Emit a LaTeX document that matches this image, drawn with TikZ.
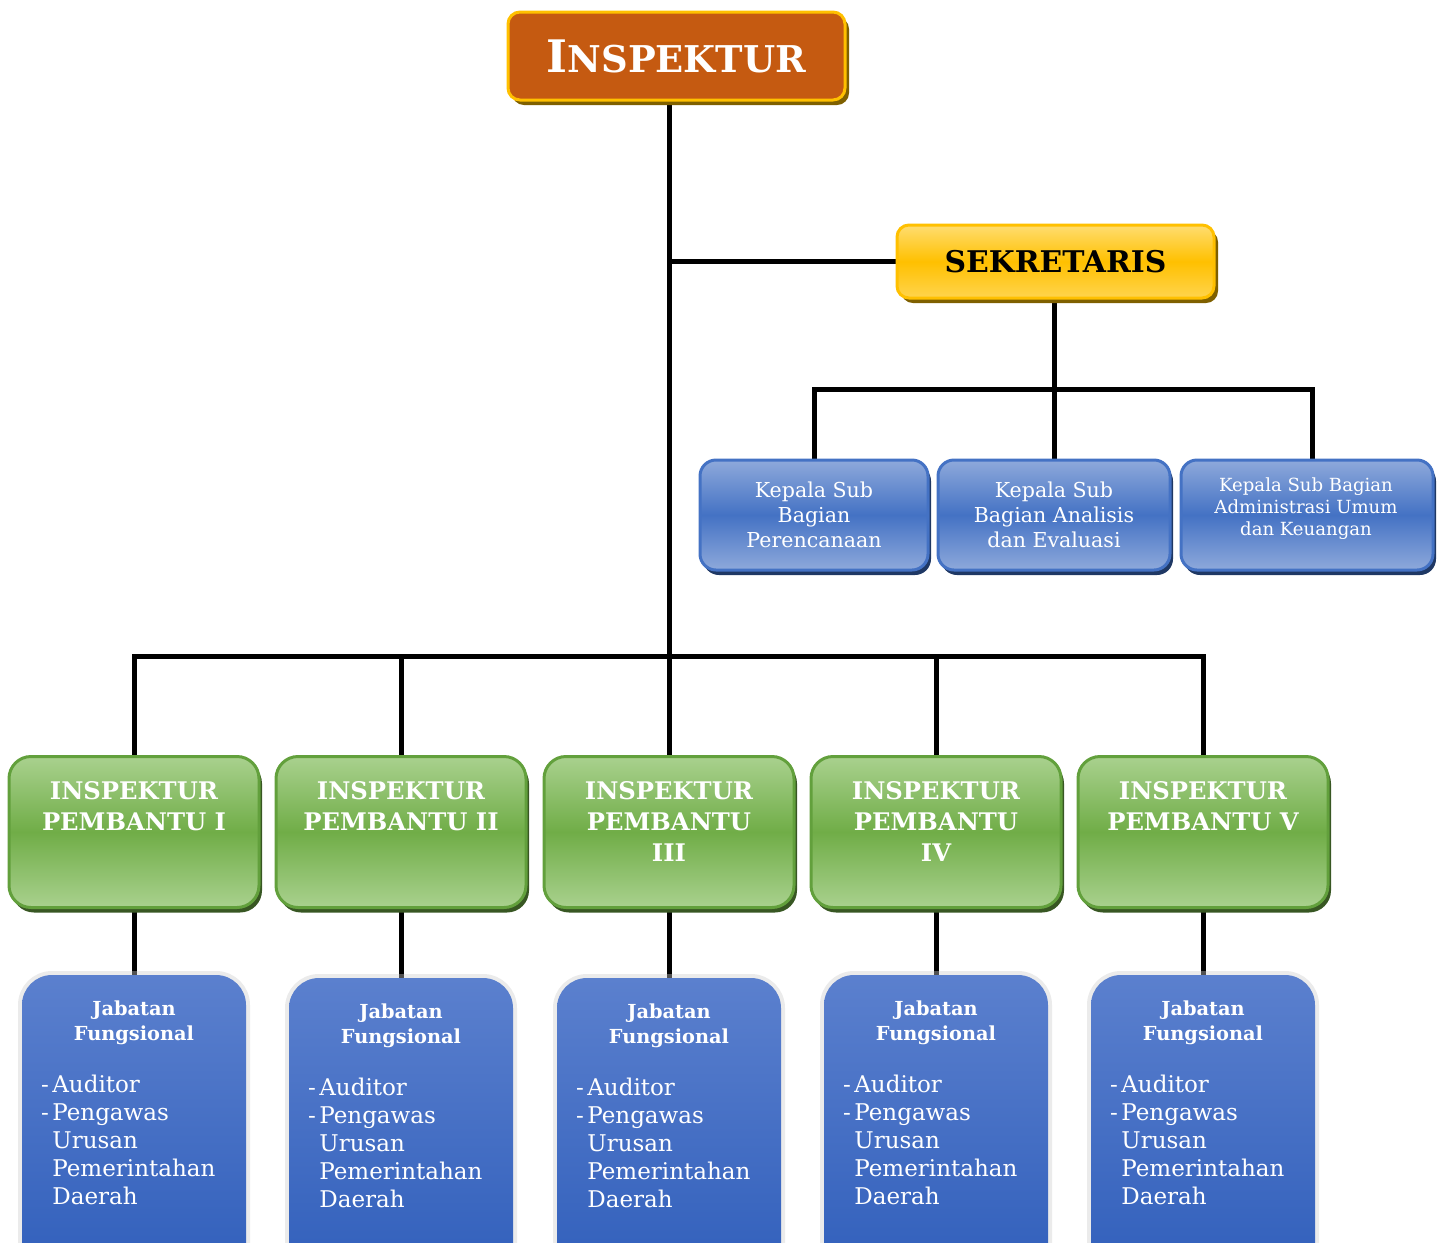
\documentclass[tikz,border=0pt]{standalone}
\usepackage{fontspec}
\setmainfont{DejaVu Serif}
\usetikzlibrary{shadows,backgrounds}
\definecolor{orgfill}{HTML}{C55A11}
\definecolor{goldline}{HTML}{FFC000}
\definecolor{olivesh}{HTML}{7F6000}
\definecolor{yeltop}{HTML}{FFDD70}
\definecolor{yelmid}{HTML}{FFC000}
\definecolor{yelbot}{HTML}{FFD44D}
\definecolor{bltop}{HTML}{8EA9DB}
\definecolor{blmid}{HTML}{4472C4}
\definecolor{blsh}{HTML}{1F3864}
\definecolor{grtop}{HTML}{A9D18E}
\definecolor{grmid}{HTML}{70AD47}
\definecolor{grline}{HTML}{62A03C}
\definecolor{grsh}{HTML}{385723}
\definecolor{fbtop}{HTML}{5B80CE}
\definecolor{fbbot}{HTML}{2E5DBA}
\newdimen\pxu \pxu=0.02cm
\begin{document}
\begin{tikzpicture}[x=0.02cm,y=-0.02cm,
  conn/.style={line width=5\pxu, draw=black},
  orgbox/.style={draw=goldline, line width=3\pxu, fill=orgfill, rounded corners=12\pxu,
    general shadow={fill=olivesh, draw=none, shadow xshift=4\pxu, shadow yshift=-5\pxu},
    minimum width=337\pxu, minimum height=88\pxu, inner sep=0pt, text=white, font=\bfseries},
  yelbox/.style={draw=goldline, line width=3\pxu, top color=yeltop, bottom color=yelbot, middle color=yelmid,
    rounded corners=12\pxu,
    general shadow={fill=olivesh, draw=none, shadow xshift=4\pxu, shadow yshift=-5\pxu},
    minimum width=317\pxu, minimum height=73\pxu, inner sep=0pt, text=black,
    font=\fontsize{17pt}{20pt}\selectfont\bfseries},
  subbox/.style={draw=blmid, line width=3\pxu, top color=bltop, bottom color=bltop, middle color=blmid,
    rounded corners=16\pxu,
    general shadow={fill=blsh, draw=none, shadow xshift=3\pxu, shadow yshift=-5\pxu},
    minimum height=110\pxu, inner sep=0pt, text=white, align=center,
    font=\fontsize{11.7pt}{14.2pt}\selectfont},
  grbox/.style={draw=grline, line width=3\pxu, top color=grtop, bottom color=grtop, middle color=grmid,
    rounded corners=22\pxu,
    general shadow={fill=grsh, draw=none, shadow xshift=3\pxu, shadow yshift=-5\pxu},
    minimum width=250\pxu, minimum height=151\pxu, inner sep=0pt},
  grtext/.style={text=white, align=center, inner sep=0pt, anchor=north,
    font=\fontsize{13.8pt}{17.6pt}\selectfont\bfseries},
  fbox/.style={top color=fbtop, bottom color=fbbot, draw=none, rounded corners=30\pxu,
    preaction={draw=black!20, line width=8\pxu, opacity=.4},
    minimum width=224\pxu, minimum height=320\pxu, inner sep=0pt},
  ftitle/.style={text=white, align=center, inner sep=0pt, anchor=north,
    font=\fontsize{11pt}{14.2pt}\selectfont\bfseries},
  flist/.style={text=white, align=left, inner sep=0pt, anchor=north west,
    font=\fontsize{13.1pt}{15.9pt}\selectfont}
]
\useasboundingbox (0,0) rectangle (1441,1242);
\clip (0,0) rectangle (1441,1242);

% top
\node[orgbox] (insp) at (676.5,56) {{\fontsize{25.5pt}{28pt}\selectfont I}{\fontsize{21pt}{28pt}\selectfont NSPEKTUR}};
\node[yelbox] (sek) at (1055.5,261.5) {SEKRETARIS};

% sub-bagian
\node[subbox, minimum width=228\pxu] (s1) at (814,515) {Kepala Sub\\Bagian\\Perencanaan};
\node[subbox, minimum width=232\pxu] (s2) at (1054,515) {Kepala Sub\\Bagian Analisis\\dan Evaluasi};
\node[subbox, minimum width=252\pxu] (s3) at (1307,515) {};
\node[text=white, align=center, inner sep=0pt, font=\fontsize{10.3pt}{12.5pt}\selectfont] (s3t) at (1306,509)
  {Kepala Sub Bagian\\Administrasi Umum\\dan Keuangan};

% inspektur pembantu
\node[grbox] (g1) at (134,832) {};
\node[grbox] (g2) at (401,832) {};
\node[grbox] (g3) at (669,832) {};
\node[grbox] (g4) at (936,832) {};
\node[grbox] (g5) at (1203,832) {};
\node[grtext] (g1t) at (134,781) {INSPEKTUR\\PEMBANTU I};
\node[grtext] (g2t) at (401,781) {INSPEKTUR\\PEMBANTU II};
\node[grtext] (g3t) at (669,781) {INSPEKTUR\\PEMBANTU\\III};
\node[grtext] (g4t) at (936,781) {INSPEKTUR\\PEMBANTU\\IV};
\node[grtext] (g5t) at (1203,781) {INSPEKTUR\\PEMBANTU V};

% jabatan fungsional
\node[fbox] (b1) at (134,1135) {};
\node[fbox] (b2) at (401,1138) {};
\node[fbox] (b3) at (669,1138) {};
\node[fbox] (b4) at (936,1135) {};
\node[fbox] (b5) at (1203,1135) {};
\foreach \n/\x/\y in {1/134/1000,2/401/1003,3/669/1003,4/936/1000,5/1203/1000}{
  \node[ftitle] (b\n t) at (\x,\y) {Jabatan\\Fungsional};
  \node[flist] (b\n l) at (\x-82,\y+75) {\llap{-\kern2pt}Auditor\\\llap{-\kern2pt}Pengawas\\Urusan\\Pemerintahan\\Daerah};
}

% connectors
\begin{scope}[on background layer]
\coordinate (bus) at (669,656);
\coordinate (sbus) at (1054,389);
\draw[conn] (g3.north |- insp.south) -- (g3.north);
\draw[conn] (g3.north |- sek.west) -- (sek.west);
\draw[conn] (s2.north |- sek.south) -- (s2.north);
\draw[conn] (s1.north) -- (s1.north |- sbus) -- ([xshift=5\pxu]s3.north |- sbus) -- ([xshift=5\pxu]s3.north);
\draw[conn] (g1.north) -- (g1.north |- bus) -- (g5.north |- bus) -- (g5.north);
\draw[conn] (g2.north) -- (g2.north |- bus);
\draw[conn] (g4.north) -- (g4.north |- bus);
\draw[conn] (g1.south) -- (b1.north);
\draw[conn] (g2.south) -- (b2.north);
\draw[conn] (g3.south) -- (b3.north);
\draw[conn] (g4.south) -- (b4.north);
\draw[conn] (g5.south) -- (b5.north);
\end{scope}
\end{tikzpicture}
\end{document}
